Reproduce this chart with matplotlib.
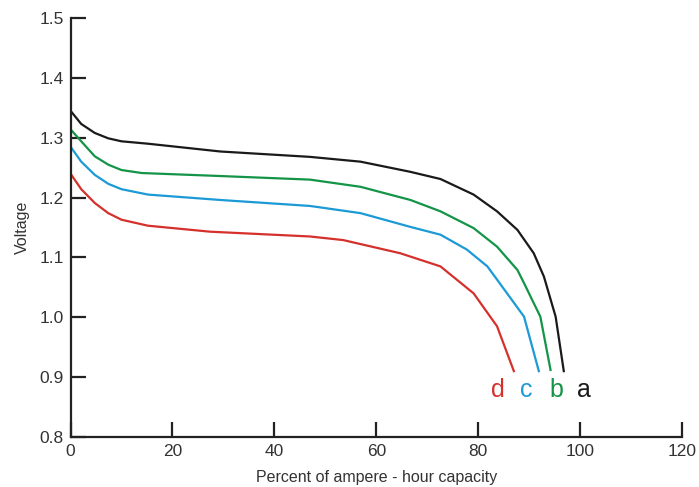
import matplotlib
matplotlib.use("Agg")
import matplotlib.pyplot as plt

# curve a (black)
a_x = [0, 2.1, 4.75, 7.4, 10.0, 15.2, 29.4, 47.0, 56.9, 66.7, 72.6, 79.1, 83.7, 87.7, 90.9, 92.9, 95.2, 96.8]
a_y = [1.345, 1.323, 1.308, 1.299, 1.294, 1.290, 1.277, 1.268, 1.260, 1.243, 1.231, 1.205, 1.177, 1.146,
       1.107, 1.068, 1.001, 0.910]

# curve b (green)
b_x = [0, 2.1, 4.75, 7.4, 10.0, 14.0, 29.4, 47.0, 56.9, 66.7, 72.6, 79.1, 83.7, 87.7, 89.0, 92.2, 94.2]
b_y = [1.314, 1.294, 1.269, 1.255, 1.246, 1.241, 1.236, 1.230, 1.218, 1.196, 1.177, 1.149, 1.118, 1.079,
       1.057, 1.001, 0.912]

# curve c (blue)
c_x = [0, 2.1, 4.75, 7.4, 10.0, 15.2, 29.4, 47.0, 56.9, 66.7, 72.6, 77.8, 81.8, 83.7, 89.0, 91.9]
c_y = [1.285, 1.260, 1.238, 1.223, 1.214, 1.205, 1.196, 1.186, 1.174, 1.151, 1.138, 1.113, 1.085, 1.063,
       1.001, 0.910]

# curve d (red)
d_x = [0, 2.1, 4.75, 7.4, 10.0, 15.2, 27.4, 47.0, 53.5, 64.7, 72.6, 79.1, 83.7, 87.0]
d_y = [1.240, 1.214, 1.191, 1.174, 1.163, 1.153, 1.143, 1.135, 1.129, 1.107, 1.085, 1.040, 0.985, 0.910]

curve_labels = ["a", "b", "c", "d"]
label_x = [100.7, 95.4, 89.5, 83.8]
label_y = 0.866

colors = ["#1a1a1a", "#149447", "#1c9ad6", "#d5312c"]

plt.rcParams["font.family"] = ["Liberation Sans", "DejaVu Sans"]

fig = plt.figure(figsize=(6.99, 4.87), dpi=100)
ax = fig.add_axes([0.1009, 0.1027, 0.8748, 0.8603])

series = [(a_x, a_y), (b_x, b_y), (c_x, c_y), (d_x, d_y)]
for (xs, ys), col in zip(series, colors):
    ax.plot(xs, ys, color=col, linewidth=1.6, solid_joinstyle="round")

for lab, lx, col in zip(curve_labels, label_x, colors):
    ax.text(lx, label_y, lab, color=col, fontsize=18, ha="center", va="baseline")

ax.set_xlim(0, 120)
ax.set_ylim(0.8, 1.5)
ax.set_xticks([0, 20, 40, 60, 80, 100, 120])
ax.set_yticks([0.8, 0.9, 1.0, 1.1, 1.2, 1.3, 1.4, 1.5])
ax.set_yticklabels(["0.8", "0.9", "1.0", "1.1", "1.2", "1.3", "1.4", "1.5"])

for side in ("top", "right"):
    ax.spines[side].set_visible(False)
for side in ("left", "bottom"):
    ax.spines[side].set_linewidth(1.6)
    ax.spines[side].set_color("#222222")

ax.tick_params(direction="in", length=11, width=1.6, color="#222222",
               labelsize=12.5, labelcolor="#333333", pad=5)

ax.set_xlabel("Percent of ampere - hour capacity", fontsize=11.5, color="#333333", labelpad=8)
ax.set_ylabel("Voltage", fontsize=11.5, color="#333333", labelpad=7)

fig.savefig("out.png", dpi=100)
